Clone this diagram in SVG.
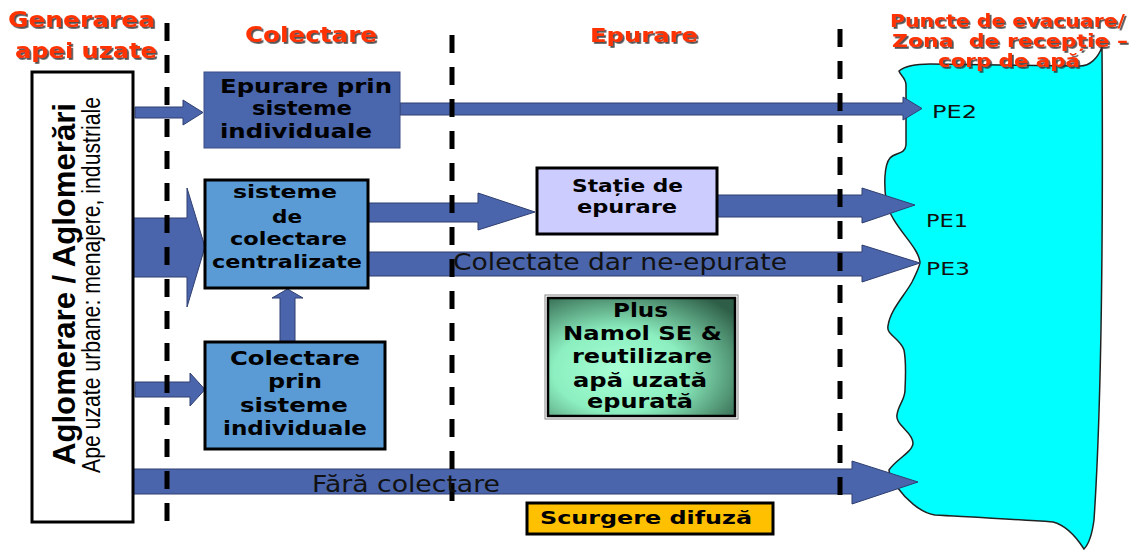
<svg xmlns="http://www.w3.org/2000/svg" width="1132" height="550" viewBox="0 0 1132 550">
<defs>
<style>
.hdr{font-family:"DejaVu Sans","Liberation Sans",sans-serif;font-weight:bold;fill:#FF3300;filter:url(#sh)}
.bx{font-family:"DejaVu Sans","Liberation Sans",sans-serif;font-weight:bold;fill:#000}
.lbl{font-family:"DejaVu Sans","Liberation Sans",sans-serif;fill:#111}
.arr{fill:#4A65AB;stroke:#2F3F70;stroke-width:1}
.dash{stroke:#000;stroke-width:5;stroke-dasharray:18 14;fill:none}
.box{stroke:#000;stroke-width:3}
</style>
<filter id="sh" x="-10%" y="-30%" width="130%" height="180%">
<feDropShadow dx="1.8" dy="1.8" stdDeviation="0.7" flood-color="#333" flood-opacity="0.85"/>
</filter>
<radialGradient id="gp" cx="38%" cy="62%" r="78%">
<stop offset="0" stop-color="#A8FFD6"/>
<stop offset="0.45" stop-color="#8CEFC0"/>
<stop offset="1" stop-color="#2E5E47"/>
</radialGradient>
</defs>
<rect width="1132" height="550" fill="#fff"/>

<g id="water">
<path d="M 899,71 C 905,66 915,64 930,64 L 1080,66 C 1090,66 1098,58 1102,47 C 1103,200 1102,400 1094,520 C 1092,535 1088,545 1084,549 C 1075,535 1065,525 1053,522 C 1010,519 970,517 935,515 C 920,513 905,498 897,487 C 893,480 889,475 889,470 C 895,460 913,452 913,443 C 913,432 895,425 897,415 C 898,405 905,400 905,390 C 906,370 906,360 904,350 C 900,338 886,335 888,326 C 890,310 905,295 912,282 C 918,270 920,265 920,262 C 918,245 890,225 886,200 C 884,185 884,165 890,158 C 895,152 905,155 906,145 L 906,85 C 906,78 900,75 899,71 Z" fill="#00FFFF" stroke="#222" stroke-width="1.5"/>
<text class="lbl" x="932" y="118" font-size="17" textLength="45" lengthAdjust="spacingAndGlyphs">PE2</text>
<text class="lbl" x="926" y="227" font-size="17" textLength="42" lengthAdjust="spacingAndGlyphs">PE1</text>
<text class="lbl" x="926" y="275" font-size="17" textLength="44" lengthAdjust="spacingAndGlyphs">PE3</text>
</g>

<g id="headers">
<text class="hdr" x="8" y="27" font-size="21" textLength="147" lengthAdjust="spacingAndGlyphs">Generarea</text>
<text class="hdr" x="15" y="58" font-size="21" textLength="142" lengthAdjust="spacingAndGlyphs">apei uzate</text>
<text class="hdr" x="245" y="42" font-size="21" textLength="132" lengthAdjust="spacingAndGlyphs">Colectare</text>
<text class="hdr" x="590" y="42" font-size="20" textLength="108" lengthAdjust="spacingAndGlyphs">Epurare</text>
<text class="hdr" x="890" y="27" font-size="17" textLength="235" lengthAdjust="spacingAndGlyphs">Puncte de evacuare/</text>
<text class="hdr" x="892" y="47" font-size="17" textLength="236" lengthAdjust="spacingAndGlyphs" xml:space="preserve">Zona  de recepție –</text>
<text class="hdr" x="938" y="67" font-size="17" textLength="142" lengthAdjust="spacingAndGlyphs">corp de apă</text>
</g>

<g id="connectors">
<polygon class="arr" points="135,107 183,107 183,100 203,112.5 183,125 183,118 135,118"/>
<polygon class="arr" points="400,103 903,103 903,97 922,108.5 903,120 903,115 400,115"/>
<polygon class="arr" points="133,218 187,218 187,188 205,247 187,307 187,277 133,277"/>
<polygon class="arr" points="368,203 478,203 478,193 535,212 478,230 478,222 368,222"/>
<polygon class="arr" points="717,195 862,195 862,188 915,205 862,223 862,217 717,217"/>
<polygon class="arr" points="368,252 862,252 862,245 920,263 862,282 862,276 368,276"/>
<polygon class="arr" points="280,342 280,298 272,298 287.5,289 303,298 295,298 295,342"/>
<polygon class="arr" points="135,382 190,382 190,373 205,389.5 190,406 190,397 135,397"/>
<polygon class="arr" points="133,469 852,469 852,461 918,482 852,504 852,494 133,494"/>
</g>

<g id="source">
<rect x="32" y="72" width="101" height="450" fill="#fff" stroke="#000" stroke-width="3"/>
<text transform="translate(75,465) rotate(-90)" font-family="'Liberation Sans',Arial,sans-serif" font-weight="bold" font-size="31" textLength="362" lengthAdjust="spacingAndGlyphs">Aglomerare / Aglomerări</text>
<text transform="translate(100,473) rotate(-90)" font-family="'Liberation Sans',Arial,sans-serif" font-size="25" textLength="376" lengthAdjust="spacingAndGlyphs">Ape uzate urbane: menajere, industriale</text>
</g>

<g id="epurare-individuale">
<rect x="204" y="72" width="196" height="76" fill="#4A66AC" stroke="#3A4F86" stroke-width="1"/>
<text class="bx" x="220" y="93" font-size="19" textLength="172" lengthAdjust="spacingAndGlyphs">Epurare prin</text>
<text class="bx" x="252" y="115" font-size="19" textLength="100" lengthAdjust="spacingAndGlyphs">sisteme</text>
<text class="bx" x="220" y="138" font-size="19" textLength="152" lengthAdjust="spacingAndGlyphs">individuale</text>
</g>

<g id="colectare-centralizata">
<rect class="box" x="205" y="180" width="163" height="108" fill="#5B9BD5"/>
<text class="bx" x="233" y="198" font-size="18" textLength="104" lengthAdjust="spacingAndGlyphs">sisteme</text>
<text class="bx" x="272" y="223" font-size="18" textLength="30" lengthAdjust="spacingAndGlyphs">de</text>
<text class="bx" x="230" y="245" font-size="18" textLength="117" lengthAdjust="spacingAndGlyphs">colectare</text>
<text class="bx" x="212" y="268" font-size="18" textLength="150" lengthAdjust="spacingAndGlyphs">centralizate</text>
</g>

<g id="statie">
<rect class="box" x="537" y="168" width="180" height="66" fill="#CCCCFF"/>
<text class="bx" x="572" y="192" font-size="18" textLength="111" lengthAdjust="spacingAndGlyphs">Stație de</text>
<text class="bx" x="577" y="213" font-size="18" textLength="100" lengthAdjust="spacingAndGlyphs">epurare</text>
</g>

<g id="colectare-individuala">
<rect class="box" x="205" y="342" width="180" height="107" fill="#5B9BD5"/>
<text class="bx" x="230" y="365" font-size="19" textLength="130" lengthAdjust="spacingAndGlyphs">Colectare</text>
<text class="bx" x="268" y="388" font-size="19" textLength="54" lengthAdjust="spacingAndGlyphs">prin</text>
<text class="bx" x="240" y="412" font-size="19" textLength="108" lengthAdjust="spacingAndGlyphs">sisteme</text>
<text class="bx" x="223" y="435" font-size="19" textLength="144" lengthAdjust="spacingAndGlyphs">individuale</text>
</g>

<g id="plus">
<rect x="545" y="295" width="193" height="124" fill="none" stroke="#888" stroke-width="1"/>
<rect x="548" y="298" width="187" height="118" fill="url(#gp)" stroke="#000" stroke-width="2.5"/>
<text class="bx" x="613" y="317" font-size="19" textLength="55" lengthAdjust="spacingAndGlyphs">Plus</text>
<text class="bx" x="563" y="340" font-size="19" textLength="159" lengthAdjust="spacingAndGlyphs">Namol SE &amp;</text>
<text class="bx" x="572" y="363" font-size="19" textLength="140" lengthAdjust="spacingAndGlyphs">reutilizare</text>
<text class="bx" x="573" y="387" font-size="19" textLength="134" lengthAdjust="spacingAndGlyphs">apă uzată</text>
<text class="bx" x="587" y="408" font-size="19" textLength="106" lengthAdjust="spacingAndGlyphs">epurată</text>
</g>

<g id="scurgere">
<rect class="box" x="527" y="503" width="246" height="31" fill="#FFC000"/>
<text class="bx" x="540" y="524" font-size="18" textLength="212" lengthAdjust="spacingAndGlyphs">Scurgere difuză</text>
</g>

<g id="dividers">
<line class="dash" x1="167" y1="23" x2="167" y2="523"/>
<line class="dash" x1="452" y1="35" x2="452" y2="515"/>
<line class="dash" x1="840" y1="29" x2="840" y2="508"/>
</g>

<g id="arrow-labels">
<text class="lbl" x="453" y="270" font-size="23" textLength="334" lengthAdjust="spacingAndGlyphs">Colectate dar ne-epurate</text>
<text class="lbl" x="312" y="492" font-size="23" textLength="188" lengthAdjust="spacingAndGlyphs">Fără colectare</text>
</g>
</svg>
